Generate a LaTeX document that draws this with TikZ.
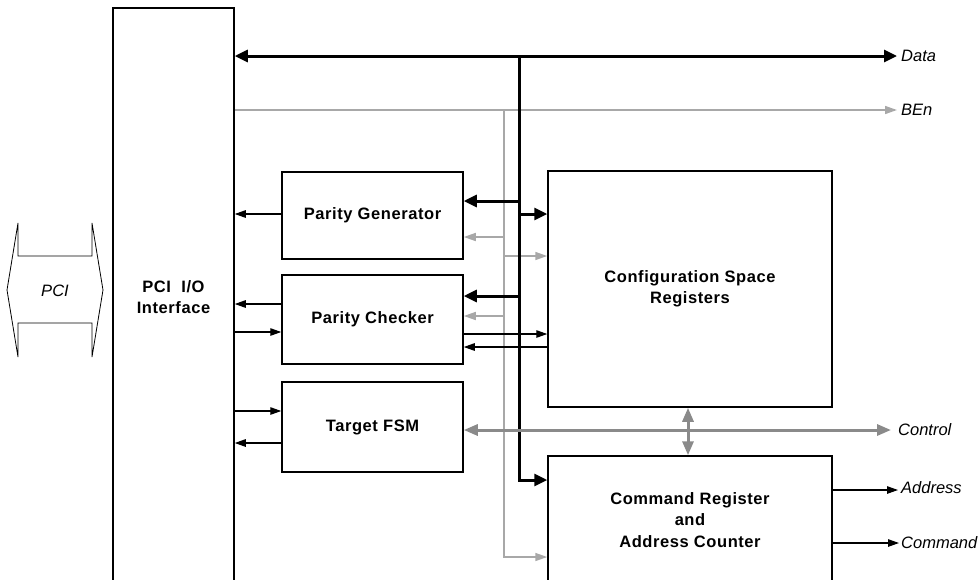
\documentclass[tikz,border=0pt]{standalone}
\usepackage{fontspec}
\setmainfont{Liberation Sans}
\usetikzlibrary{arrows.meta}
\definecolor{lgray}{HTML}{A8A8A8}
\definecolor{mgray}{HTML}{8A8A8A}
\newfontfamily\blkfont[LetterSpace=3.5]{Liberation Sans}
\tikzset{
  ST/.tip={Triangle[length=11pt,width=7.5pt]},
  BT/.tip={Triangle[length=13pt,width=12pt]},
  GT/.tip={Triangle[length=12pt,width=8pt]},
  CT/.tip={Triangle[length=14pt,width=11pt]},
  blk/.style={draw, line width=1.5pt, inner sep=0pt, align=center, font=\fontsize{16.5}{21.5}\selectfont\blkfont\bfseries},
  lab/.style={inner sep=2pt, font=\fontsize{16.5}{20}\selectfont\itshape},
  sig/.style={line width=1.2pt, -ST},
  bus/.style={line width=3pt, -BT},
  gsig/.style={line width=1.5pt, color=lgray, -GT},
  ctl/.style={line width=3pt, color=mgray, CT-CT},
}
\begin{document}
\begin{tikzpicture}[x=1pt,y=-1pt]
\useasboundingbox (0,0) rectangle (979,579);
\clip (0,0) rectangle (979,579);

% blocks
\node[blk, minimum width=121pt, minimum height=578pt] (pci) at (173.5,297) {PCI\ \ I/O\\Interface};
\node[blk, minimum width=181pt, minimum height=87pt] (pg) at (372.5,215.5) {Parity Generator};
\node[blk, minimum width=181pt, minimum height=89pt] (pc) at (372.5,319.5) {Parity Checker};
\node[blk, minimum width=181pt, minimum height=90pt] (fsm) at (372.5,427) {Target FSM};
\node[blk, minimum width=284pt, minimum height=236pt] (cfg) at (690,289) {Configuration Space\\Registers};
\node[blk, minimum width=284pt, minimum height=128pt] (cmd) at (690,520) {Command Register\\and\\Address Counter};

% PCI bus symbol
\draw[line width=0.8pt] (18,256) -- (18,223) -- (7,290) -- (18,357) -- (18,323) -- (92,323)
  -- (92,357) -- (103,290) -- (92,223) -- (92,256) -- cycle;
\node[lab] (pcil) at (55,291) {PCI};

% external labels
\node[lab, anchor=west] (ldata) at (899,56) {Data};
\node[lab, anchor=west] (lben) at (899,110) {BEn};
\node[lab, anchor=west] (lctrl) at (896,430) {Control};
\node[lab, anchor=west] (laddr) at (899,488) {Address};
\node[lab, anchor=west] (lcmd) at (899,543) {Command};

% junction coordinates
\coordinate (dj) at (519,56);
\coordinate (dk) at (519,480);
\coordinate (gj) at (504,110);
\coordinate (gk) at (504,557);
\coordinate (b1) at (519,201);
\coordinate (b2) at (519,214);
\coordinate (b3) at (519,296);
\coordinate (g1) at (504,237);
\coordinate (g2) at (504,256);
\coordinate (g3) at (504,316);

% BEn (gray)
\draw[gsig, shorten >=2pt] (pci.east |- lben) -- (lben.west);
\draw[gsig] (gj) -- (gk) -- (gk -| cmd.west);
\draw[gsig] (g1) -- (g1 -| pg.east);
\draw[gsig] (g2) -- (g2 -| cfg.west);
\draw[gsig] (g3) -- (g3 -| pc.east);

% Data bus
\draw[bus, BT-BT, shorten >=2pt] (pci.east |- ldata) -- (ldata.west);
\draw[bus] (dj) -- (dk) -- (dk -| cmd.west);
\draw[bus] (b1) -- (b1 -| pg.east);
\draw[bus] (b2) -- (b2 -| cfg.west);
\draw[bus] (b3) -- (b3 -| pc.east);

% Control
\draw[ctl, shorten >=5pt] (fsm.east |- lctrl) -- (lctrl.west);
\draw[ctl] (cfg.south -| 688,0) -- (cmd.north -| 688,0);

% thin signals
\draw[sig] (pc.east |- 0,334) -- (cfg.west |- 0,334);
\draw[sig] (cfg.west |- 0,347) -- (pc.east |- 0,347);
\draw[sig] (pg.west |- 0,214) -- (pci.east |- 0,214);
\draw[sig] (pc.west |- 0,304) -- (pci.east |- 0,304);
\draw[sig] (pci.east |- 0,332) -- (pc.west |- 0,332);
\draw[sig] (pci.east |- 0,411) -- (fsm.west |- 0,411);
\draw[sig] (fsm.west |- 0,443) -- (pci.east |- 0,443);
\draw[sig, shorten >=1pt] (cmd.east |- 0,490) -- (laddr.west |- 0,490);
\draw[sig] (cmd.east |- lcmd) -- (lcmd.west);
\end{tikzpicture}
\end{document}
